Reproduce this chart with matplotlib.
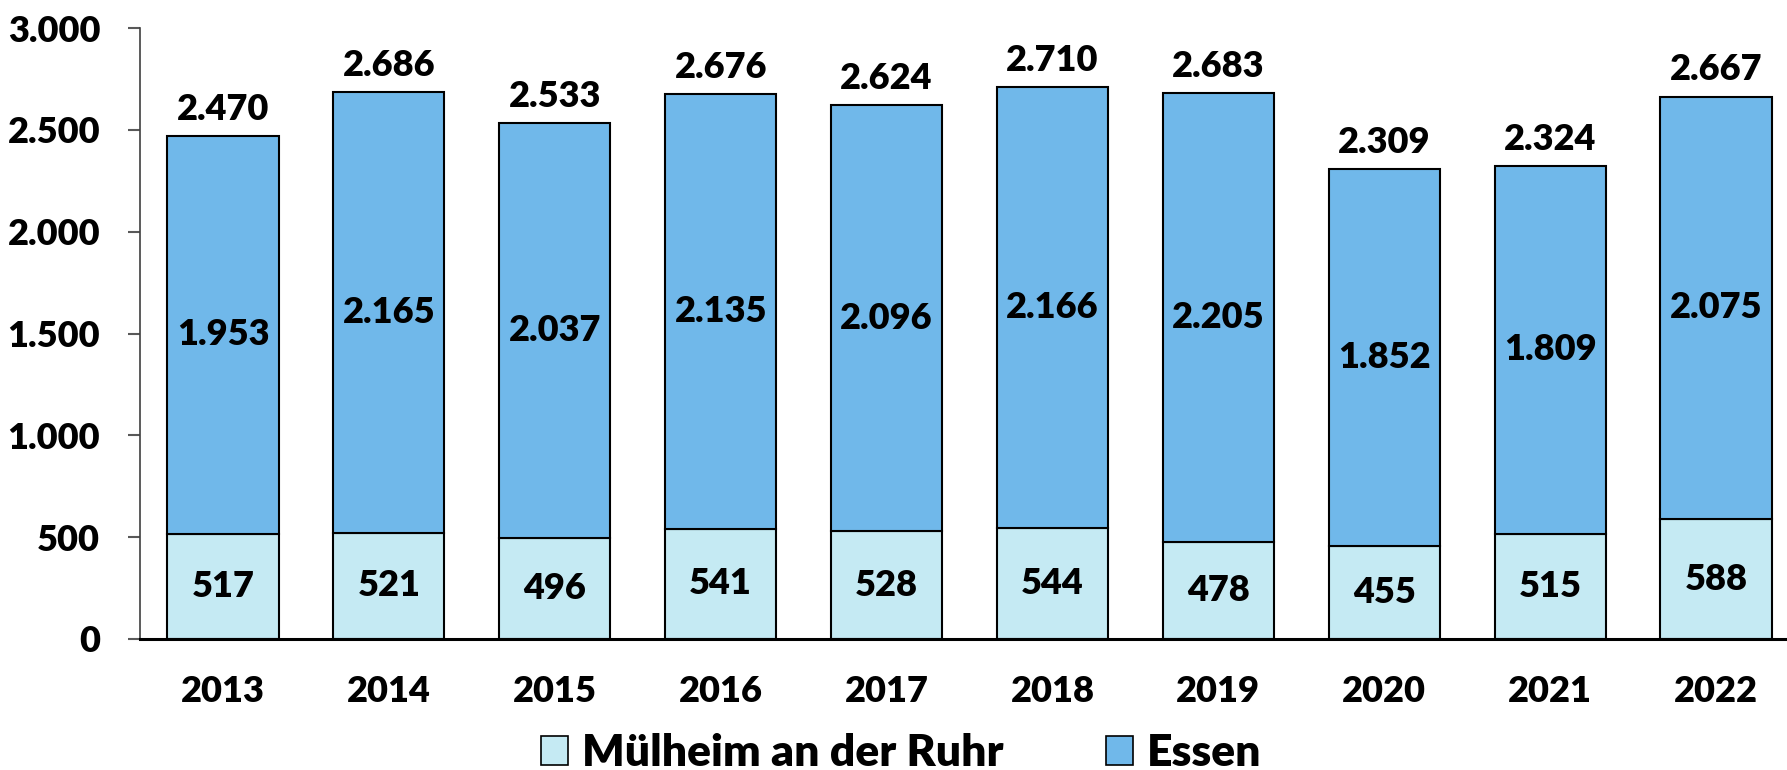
import matplotlib
matplotlib.use("Agg")
import matplotlib.pyplot as plt
from matplotlib.patches import Patch
import numpy as np

years = ["2013", "2014", "2015", "2016", "2017", "2018", "2019", "2020", "2021", "2022"]
muelheim = [517, 521, 496, 541, 528, 544, 478, 455, 515, 588]
essen = [1953, 2165, 2037, 2135, 2096, 2166, 2205, 1852, 1809, 2075]
totals = [2470, 2686, 2533, 2676, 2624, 2710, 2683, 2309, 2324, 2667]
y_ticks = [0, 500, 1000, 1500, 2000, 2500, 3000]

def fmt(v):
    return f"{v:,}".replace(",", ".")

plt.rcParams['font.family'] = ['Lato', 'DejaVu Sans']
WT = 'heavy'
plt.rcParams['font.weight'] = WT

W, H = 1787, 770
fig = plt.figure(figsize=(W / 100, H / 100), dpi=100)
left_px, top_px, bottom_px = 140, 28, 639
ax = fig.add_axes([left_px / W, (H - bottom_px) / H, (W - left_px) / W, (bottom_px - top_px) / H])

c_m = "#C5EAF3"
c_e = "#70B8EA"
x = np.arange(len(years))
bw = 0.67
ax.bar(x, muelheim, bw, color=c_m, edgecolor="black", linewidth=1.5, zorder=2)
ax.bar(x, essen, bw, bottom=muelheim, color=c_e, edgecolor="black", linewidth=1.5, zorder=2)

fs = 26
for i in range(len(years)):
    ax.text(x[i], muelheim[i] / 2, fmt(muelheim[i]), ha="center", va="center",
            fontsize=fs, fontweight=WT, zorder=3)
    ax.text(x[i], muelheim[i] + essen[i] / 2, fmt(essen[i]), ha="center", va="center",
            fontsize=fs, fontweight=WT, zorder=3)
    ax.annotate(fmt(totals[i]), (x[i], totals[i]), xytext=(0, 7), textcoords="offset points",
                ha="center", va="bottom", fontsize=fs, fontweight=WT, zorder=3)

slot = 165.9
ax.set_xlim(-0.5, -0.5 + (W - left_px) / slot)
ax.set_ylim(0, 3000)
ax.set_yticks(y_ticks)
ax.set_yticklabels([fmt(v) for v in y_ticks], fontsize=fs, fontweight=WT)
ax.set_xticks(x)
ax.set_xticklabels(years, fontsize=fs, fontweight=WT)

ax.spines['top'].set_visible(False)
ax.spines['right'].set_visible(False)
ax.spines['left'].set_linewidth(1.2)
ax.spines['left'].set_color("#404040")
ax.spines['bottom'].set_linewidth(2.2)
ax.spines['bottom'].set_color("black")
ax.tick_params(axis='y', direction='out', length=8.6, width=1.5, color="#595959", pad=20)
ax.tick_params(axis='x', length=0, pad=26)

handles = [Patch(facecolor=c_m, edgecolor="black", linewidth=1.2, label="Mülheim an der Ruhr"),
           Patch(facecolor=c_e, edgecolor="black", linewidth=1.2, label="Essen")]
leg = fig.legend(handles=handles, loc="center", bbox_to_anchor=(901 / W, 1 - 753 / H), ncol=2,
                 frameon=False, prop={'family': ['Lato', 'DejaVu Sans'], 'weight': WT, 'size': 32},
                 handlelength=0.61, handleheight=0.61, handletextpad=0.32, columnspacing=2.3,
                 borderpad=0, borderaxespad=0)

fig.savefig("out.png", dpi=100)
